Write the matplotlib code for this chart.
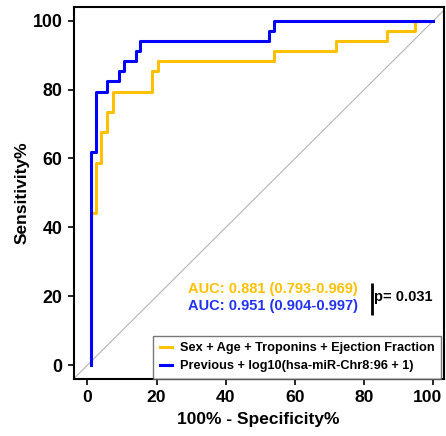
import numpy as np
import matplotlib
matplotlib.use("Agg")
import matplotlib.pyplot as plt
import matplotlib.transforms as mtransforms

plt.rcParams.update({
    "font.family": ["Liberation Sans", "DejaVu Sans"],
    "font.weight": "bold",
    "axes.labelweight": "bold",
    "axes.linewidth": 1.5,
    "xtick.major.width": 1.2,
    "ytick.major.width": 1.2,
    "xtick.major.size": 4.5,
    "ytick.major.size": 4.5,
    "xtick.labelsize": 12.6,
    "ytick.labelsize": 12.8,
    "axes.labelsize": 12.5,
})

# ROC points (100% - specificity, sensitivity)
fpr_clin = [1.0, 1.0, 2.6, 4.0, 5.8, 7.4, 18.8, 20.3, 54.0, 71.9, 86.5, 94.7, 100]
tpr_clin = [0, 44.1, 58.8, 67.6, 73.5, 79.4, 85.3, 88.2, 91.2, 94.1, 97.1, 100, 100]

fpr_mirna = [1.0, 1.0, 2.6, 5.7, 9.0, 10.5, 13.9, 15.3, 52.4, 54.0, 100]
tpr_mirna = [0, 61.8, 79.4, 82.4, 85.3, 88.2, 91.2, 94.1, 97.1, 100, 100]

label_clin = "Sex + Age + Troponins + Ejection Fraction"
label_mirna = "Previous + log10(hsa-miR-Chr8:96 + 1)"
auc_clin = "AUC: 0.881 (0.793-0.969)"
auc_mirna = "AUC: 0.951 (0.904-0.997)"
p_text = "p= 0.031"

c_clin = "#FFC000"
c_mirna = "#0000FF"

fig = plt.figure(figsize=(4.46, 4.36), dpi=100)
ax = fig.add_axes([0.165, 0.131, 0.83, 0.853])

ax.axline((0, 0), (1, 1), color="#B4B4B4", lw=0.8, zorder=1)
ax.plot(fpr_clin, tpr_clin, drawstyle="steps-post", color=c_clin, lw=2.2,
        label=label_clin, zorder=3)
ax.plot(fpr_mirna, tpr_mirna, drawstyle="steps-post", color=c_mirna, lw=2.2,
        label=label_mirna, zorder=4)

ax.set_xlim(-4, 103)
ax.set_ylim(-4, 104)
ax.set_xticks(np.arange(0, 101, 20))
ax.set_yticks(np.arange(0, 101, 20))
ax.set_xlabel("100% - Specificity%", labelpad=5)
ax.set_ylabel("Sensitivity%", labelpad=2)

# nudge the last x tick label so it stays inside the figure
last = ax.get_xticklabels()[-1]
last.set_transform(last.get_transform() +
                   mtransforms.ScaledTranslation(-4 / 72, 0, fig.dpi_scale_trans))

leg = ax.legend(loc="lower right", bbox_to_anchor=(0.993, 0.0), borderaxespad=0,
                frameon=True, fancybox=False, edgecolor="#555555",
                prop={"size": 9.2, "weight": "bold"}, handlelength=1.0,
                handletextpad=0.6, borderpad=0.5, labelspacing=0.5)
leg.get_frame().set_linewidth(1.0)

ax.text(0.309, 0.2405, auc_clin, transform=ax.transAxes, color=c_clin,
        fontsize=10.5, fontweight="bold", va="center", ha="left")
ax.text(0.309, 0.1956, auc_mirna, transform=ax.transAxes, color="#2233EE",
        fontsize=10.5, fontweight="bold", va="center", ha="left")
ax.plot([0.805, 0.805], [0.1714, 0.2575], transform=ax.transAxes, color="black",
        lw=2.0, solid_capstyle="butt")
ax.text(0.812, 0.2198, p_text, transform=ax.transAxes, color="black",
        fontsize=10.5, fontweight="bold", va="center", ha="left")

fig.savefig("out.png", dpi=100)
